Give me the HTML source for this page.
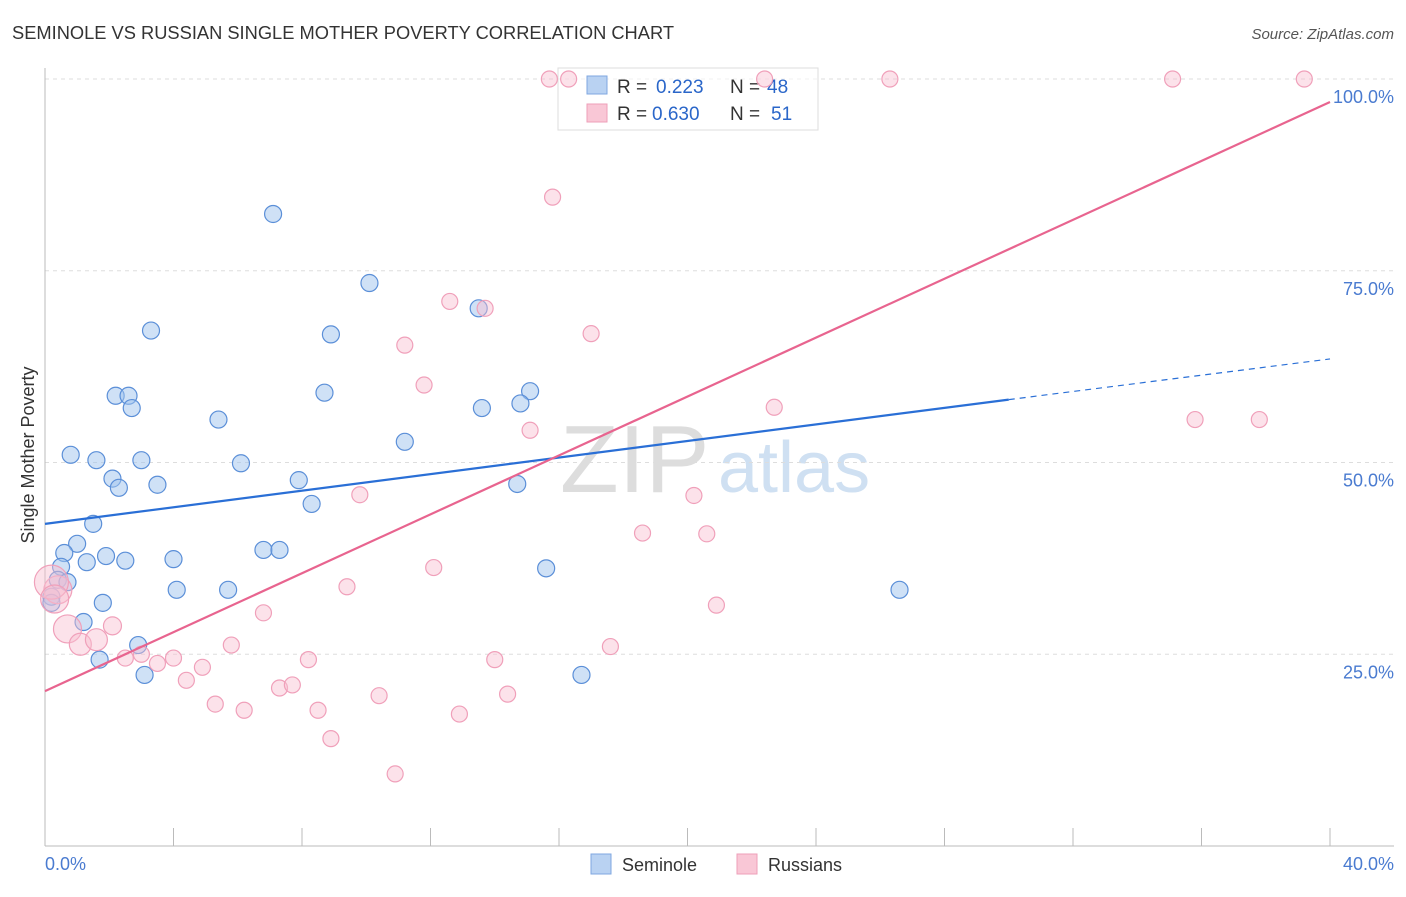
<!DOCTYPE html>
<html><head><meta charset="utf-8"><style>
body{margin:0;background:#fff;font-family:"Liberation Sans",sans-serif}
svg text{font-family:"Liberation Sans",sans-serif}
</style></head><body>
<svg id="c" width="1406" height="892" xmlns="http://www.w3.org/2000/svg">
<text x="12" y="39" font-size="18.3" fill="#333">SEMINOLE VS RUSSIAN SINGLE MOTHER POVERTY CORRELATION CHART</text>
<text x="1394" y="39" font-size="15" fill="#555" font-style="italic" text-anchor="end">Source: ZipAtlas.com</text>
<text x="560" y="492" font-size="96" fill="#ddd" font-family="Liberation Serif">ZIP</text>
<text x="718" y="492" font-size="72" fill="#cfe0f2">atlas</text>
<g id="grid"></g>
<g id="axes"></g>
<g>
<rect x="558" y="68" width="260" height="62" fill="#fff" fill-opacity="0.6" stroke="#ddd"/>
<rect x="587" y="76" width="20" height="18" fill="#b9d2f2" stroke="#7fa7e0"/>
<rect x="587" y="104" width="20" height="18" fill="#f9c7d6" stroke="#ee9fb8"/>
<text x="617" y="93" font-size="19" fill="#333">R =</text>
<text x="656" y="93" font-size="19" fill="#2a66c9">0.223</text>
<text x="730" y="93" font-size="19" fill="#333">N =</text>
<text x="767" y="93" font-size="19" fill="#2a66c9">48</text>
<text x="617" y="120" font-size="19" fill="#333">R =</text>
<text x="652" y="120" font-size="19" fill="#2a66c9">0.630</text>
<text x="730" y="120" font-size="19" fill="#333">N =</text>
<text x="771" y="120" font-size="19" fill="#2a66c9">51</text>
</g>
<g id="pts"></g>
<g id="trend"></g>
<text transform="translate(34,455) rotate(-90)" font-size="18" fill="#333" text-anchor="middle">Single Mother Poverty</text>
<text x="45" y="870" font-size="18" fill="#4a7bd0">0.0%</text>
<text x="1394" y="870" font-size="18" fill="#4a7bd0" text-anchor="end">40.0%</text>
<g><rect x="591" y="854" width="20" height="20" fill="#b9d2f2" stroke="#7fa7e0"/><text x="622" y="871" font-size="18" fill="#333">Seminole</text></g>
<g><rect x="737" y="854" width="20" height="20" fill="#f9c7d6" stroke="#ee9fb8"/><text x="768" y="871" font-size="18" fill="#333">Russians</text></g>
</svg>
<script>
const yTicks=[25,50,75,100];
const xTicks=[0,4,8,12,16,20,24,28,32,36,40];
const blueX=[7.1,10.1,3.3,8.9,13.5,15.1,14.8,13.6,8.7,2.2,2.6,2.7,5.4,11.2,0.8,1.6,3.0,6.1,2.1,2.3,3.5,7.9,14.7,8.3,1.5,1.0,0.6,1.9,2.5,4.0,1.3,0.5,6.8,7.3,15.6,0.4,0.7,0.2,0.2,1.8,4.1,5.7,1.2,2.9,1.7,3.1,16.7,26.6];
const blueY=[82.4,73.4,67.2,66.7,70.1,59.3,57.7,57.1,59.1,58.7,58.7,57.1,55.6,52.7,51.0,50.3,50.3,49.9,47.9,46.7,47.1,47.7,47.2,44.6,42.0,39.4,38.2,37.8,37.2,37.4,37.0,36.4,38.6,38.6,36.2,34.7,34.4,32.5,31.7,31.7,33.4,33.4,29.2,26.2,24.3,22.3,22.3,33.4];
const pinkX=[15.7,16.3,22.4,26.3,35.1,39.2,15.8,12.6,13.7,17.0,11.2,11.8,22.7,35.8,37.8,15.1,9.8,20.2,18.6,20.6,12.1,9.4,20.9,6.8,0.4,0.7,1.1,1.6,2.1,3.0,2.5,3.5,4.0,4.4,4.9,5.8,5.3,6.2,8.2,7.3,7.7,8.5,8.9,10.4,10.9,12.9,14.0,14.4,17.6,0.2,0.3];
const pinkY=[100,100,100,100,100,100,84.6,71.0,70.1,66.8,65.3,60.1,57.2,55.6,55.6,54.2,45.8,45.7,40.8,40.7,36.3,33.8,31.4,30.4,33.4,28.3,26.3,26.9,28.7,25.0,24.5,23.8,24.5,21.6,23.3,26.2,18.5,17.7,24.3,20.6,21.0,17.7,14.0,19.6,9.4,17.2,24.3,19.8,26.0,34.4,32.2];
const pinkR=[8,8,8,8,8,8,8,8,8,8,8,8,8,8,8,8,8,8,8,8,8,8,8,8,14,14,11,11,9,8,8,8,8,8,8,8,8,8,8,8,8,8,8,8,8,8,8,8,8,17,14];
const X0=45,X1=1330,Y0=846,Y100=79;
const sx=v=>X0+(v/40)*(X1-X0), sy=v=>Y0-(v/100)*(Y0-Y100);
const NS="http://www.w3.org/2000/svg";
function mk(t,a,p){const e=document.createElementNS(NS,t);for(const k in a)e.setAttribute(k,a[k]);p.appendChild(e);return e;}
const grid=document.getElementById('grid'),axes=document.getElementById('axes'),pts=document.getElementById('pts'),tr=document.getElementById('trend');
yTicks.forEach(v=>{const l=mk('line',{x1:X0,x2:1394,y1:sy(v),y2:sy(v),stroke:'#ddd','stroke-dasharray':'4,4'},grid);


const t=mk('text',{x:1394,y:sy(v)+24,'font-size':18,fill:'#4a7bd0','text-anchor':'end'},grid);t.textContent=v.toFixed(1)+'%';

});
const ya=mk('line',{x1:X0,x2:X0,y1:68,y2:Y0,stroke:'#bbb'},axes);


const xa=mk('line',{x1:X0,x2:1394,y1:Y0,y2:Y0,stroke:'#bbb'},axes);


xTicks.forEach(v=>{const l=mk('line',{x1:sx(v),x2:sx(v),y1:Y0-18,y2:Y0,stroke:'#bbb'},axes);

});
blueX.forEach((x,i)=>{const c=mk('circle',{cx:sx(x),cy:sy(blueY[i]),r:8.5,fill:'rgba(160,195,238,0.5)',stroke:'#5b8fd8','stroke-width':1.2},pts);

});
pinkX.forEach((x,i)=>{const c=mk('circle',{cx:sx(x),cy:sy(pinkY[i]),r:pinkR[i],fill:'rgba(248,190,208,0.45)',stroke:'#f0a0ba','stroke-width':1.2},pts);

});
const bl=mk('line',{x1:sx(0),y1:sy(42.0),x2:sx(30),y2:sy(58.2),stroke:'#2a6fd6','stroke-width':2.2},tr);


const bd=mk('line',{x1:sx(30),y1:sy(58.2),x2:sx(40),y2:sy(63.5),stroke:'#2a6fd6','stroke-width':1.2,'stroke-dasharray':'6,5'},tr);


const pl=mk('line',{x1:sx(0),y1:sy(20.2),x2:sx(40),y2:sy(97.0),stroke:'#e8648f','stroke-width':2.2},tr);


</script>
</body></html>
